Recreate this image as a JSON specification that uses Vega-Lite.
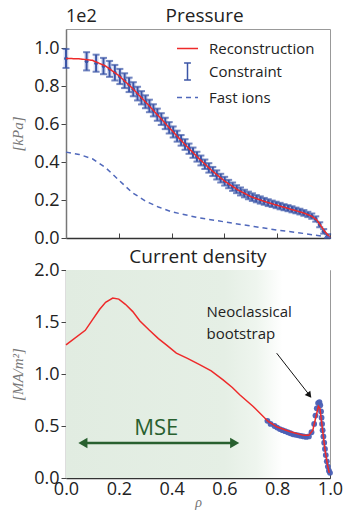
{
  "$schema": "https://vega.github.io/schema/vega-lite/v6.json",
  "padding": {"left": 10, "top": 6, "right": 2, "bottom": 2},
  "background": "white",
  "bounds": "flush",
  "spacing": 32,
  "config": {
    "font": "Open Sans",
    "view": {"stroke": "#999", "strokeWidth": 1},
    "axis": {
      "grid": false,
      "labelFlush": false,
      "domainColor": "#444",
      "domainWidth": 1.5,
      "tickColor": "#444",
      "labelFont": "Open Sans",
      "labelFontSize": 18,
      "labelColor": "#222",
      "titleFont": "Liberation Serif",
      "titleFontStyle": "italic",
      "titleFontWeight": "normal",
      "titleColor": "#777",
      "titleFontSize": 15
    }
  },
  "datasets": {
    "one": [{}],
    "pressure_lines": [
      {"series": "Reconstruction", "rho": 0.0, "p": 0.945},
      {"series": "Reconstruction", "rho": 0.05, "p": 0.943},
      {"series": "Reconstruction", "rho": 0.1, "p": 0.935},
      {"series": "Reconstruction", "rho": 0.15, "p": 0.905},
      {"series": "Reconstruction", "rho": 0.2, "p": 0.855},
      {"series": "Reconstruction", "rho": 0.25, "p": 0.79},
      {"series": "Reconstruction", "rho": 0.3, "p": 0.718},
      {"series": "Reconstruction", "rho": 0.35, "p": 0.643},
      {"series": "Reconstruction", "rho": 0.4, "p": 0.567},
      {"series": "Reconstruction", "rho": 0.45, "p": 0.493},
      {"series": "Reconstruction", "rho": 0.5, "p": 0.423},
      {"series": "Reconstruction", "rho": 0.55, "p": 0.358},
      {"series": "Reconstruction", "rho": 0.6, "p": 0.3},
      {"series": "Reconstruction", "rho": 0.65, "p": 0.254},
      {"series": "Reconstruction", "rho": 0.7, "p": 0.218},
      {"series": "Reconstruction", "rho": 0.75, "p": 0.193},
      {"series": "Reconstruction", "rho": 0.8, "p": 0.172},
      {"series": "Reconstruction", "rho": 0.85, "p": 0.152},
      {"series": "Reconstruction", "rho": 0.9, "p": 0.132},
      {"series": "Reconstruction", "rho": 0.93, "p": 0.115},
      {"series": "Reconstruction", "rho": 0.95, "p": 0.095},
      {"series": "Reconstruction", "rho": 0.965, "p": 0.065},
      {"series": "Reconstruction", "rho": 0.98, "p": 0.035},
      {"series": "Reconstruction", "rho": 1.0, "p": 0.003},
      {"series": "Fast ions", "rho": 0.0, "p": 0.452},
      {"series": "Fast ions", "rho": 0.05, "p": 0.44},
      {"series": "Fast ions", "rho": 0.1, "p": 0.417},
      {"series": "Fast ions", "rho": 0.15, "p": 0.37},
      {"series": "Fast ions", "rho": 0.2, "p": 0.305},
      {"series": "Fast ions", "rho": 0.25, "p": 0.24},
      {"series": "Fast ions", "rho": 0.3, "p": 0.195},
      {"series": "Fast ions", "rho": 0.35, "p": 0.163},
      {"series": "Fast ions", "rho": 0.4, "p": 0.138},
      {"series": "Fast ions", "rho": 0.5, "p": 0.107},
      {"series": "Fast ions", "rho": 0.6, "p": 0.085},
      {"series": "Fast ions", "rho": 0.7, "p": 0.063},
      {"series": "Fast ions", "rho": 0.8, "p": 0.042},
      {"series": "Fast ions", "rho": 0.9, "p": 0.024},
      {"series": "Fast ions", "rho": 1.0, "p": 0.004}
    ],
    "constraint": [
      {"rho": 0.0, "p": 0.945, "lo": 0.895, "hi": 0.995},
      {"rho": 0.078, "p": 0.93, "lo": 0.882, "hi": 0.978},
      {"rho": 0.114, "p": 0.92, "lo": 0.875, "hi": 0.965},
      {"rho": 0.142, "p": 0.905, "lo": 0.862, "hi": 0.948},
      {"rho": 0.165, "p": 0.89, "lo": 0.848, "hi": 0.932},
      {"rho": 0.185, "p": 0.87, "lo": 0.829, "hi": 0.911},
      {"rho": 0.204, "p": 0.85, "lo": 0.81, "hi": 0.89},
      {"rho": 0.222, "p": 0.828, "lo": 0.789, "hi": 0.867},
      {"rho": 0.239, "p": 0.806, "lo": 0.768, "hi": 0.844},
      {"rho": 0.255, "p": 0.783, "lo": 0.746, "hi": 0.82},
      {"rho": 0.271, "p": 0.76, "lo": 0.724, "hi": 0.796},
      {"rho": 0.286, "p": 0.738, "lo": 0.703, "hi": 0.773},
      {"rho": 0.301, "p": 0.717, "lo": 0.683, "hi": 0.751},
      {"rho": 0.316, "p": 0.695, "lo": 0.662, "hi": 0.728},
      {"rho": 0.331, "p": 0.672, "lo": 0.64, "hi": 0.704},
      {"rho": 0.346, "p": 0.649, "lo": 0.617, "hi": 0.681},
      {"rho": 0.361, "p": 0.626, "lo": 0.595, "hi": 0.657},
      {"rho": 0.376, "p": 0.603, "lo": 0.573, "hi": 0.633},
      {"rho": 0.391, "p": 0.58, "lo": 0.55, "hi": 0.61},
      {"rho": 0.406, "p": 0.558, "lo": 0.529, "hi": 0.587},
      {"rho": 0.421, "p": 0.536, "lo": 0.507, "hi": 0.565},
      {"rho": 0.436, "p": 0.514, "lo": 0.486, "hi": 0.542},
      {"rho": 0.451, "p": 0.492, "lo": 0.464, "hi": 0.52},
      {"rho": 0.466, "p": 0.47, "lo": 0.443, "hi": 0.497},
      {"rho": 0.481, "p": 0.449, "lo": 0.422, "hi": 0.476},
      {"rho": 0.496, "p": 0.428, "lo": 0.402, "hi": 0.454},
      {"rho": 0.511, "p": 0.408, "lo": 0.382, "hi": 0.434},
      {"rho": 0.526, "p": 0.388, "lo": 0.363, "hi": 0.413},
      {"rho": 0.541, "p": 0.369, "lo": 0.344, "hi": 0.394},
      {"rho": 0.556, "p": 0.35, "lo": 0.326, "hi": 0.374},
      {"rho": 0.571, "p": 0.332, "lo": 0.308, "hi": 0.356},
      {"rho": 0.586, "p": 0.315, "lo": 0.292, "hi": 0.338},
      {"rho": 0.601, "p": 0.299, "lo": 0.276, "hi": 0.322},
      {"rho": 0.616, "p": 0.284, "lo": 0.262, "hi": 0.306},
      {"rho": 0.631, "p": 0.27, "lo": 0.248, "hi": 0.292},
      {"rho": 0.646, "p": 0.257, "lo": 0.236, "hi": 0.278},
      {"rho": 0.661, "p": 0.245, "lo": 0.224, "hi": 0.266},
      {"rho": 0.676, "p": 0.234, "lo": 0.214, "hi": 0.254},
      {"rho": 0.691, "p": 0.224, "lo": 0.204, "hi": 0.244},
      {"rho": 0.706, "p": 0.215, "lo": 0.195, "hi": 0.235},
      {"rho": 0.721, "p": 0.207, "lo": 0.188, "hi": 0.226},
      {"rho": 0.736, "p": 0.2, "lo": 0.181, "hi": 0.219},
      {"rho": 0.751, "p": 0.193, "lo": 0.175, "hi": 0.211},
      {"rho": 0.766, "p": 0.186, "lo": 0.168, "hi": 0.204},
      {"rho": 0.781, "p": 0.18, "lo": 0.163, "hi": 0.197},
      {"rho": 0.796, "p": 0.174, "lo": 0.157, "hi": 0.191},
      {"rho": 0.811, "p": 0.168, "lo": 0.151, "hi": 0.185},
      {"rho": 0.826, "p": 0.162, "lo": 0.146, "hi": 0.178},
      {"rho": 0.841, "p": 0.157, "lo": 0.141, "hi": 0.173},
      {"rho": 0.856, "p": 0.151, "lo": 0.135, "hi": 0.167},
      {"rho": 0.871, "p": 0.145, "lo": 0.13, "hi": 0.16},
      {"rho": 0.886, "p": 0.139, "lo": 0.124, "hi": 0.154},
      {"rho": 0.901, "p": 0.132, "lo": 0.117, "hi": 0.147},
      {"rho": 0.916, "p": 0.124, "lo": 0.11, "hi": 0.138},
      {"rho": 0.931, "p": 0.115, "lo": 0.101, "hi": 0.129},
      {"rho": 0.946, "p": 0.1, "lo": 0.086, "hi": 0.114},
      {"rho": 0.961, "p": 0.07, "lo": 0.057, "hi": 0.083},
      {"rho": 0.976, "p": 0.035, "lo": 0.023, "hi": 0.047},
      {"rho": 0.991, "p": 0.01, "lo": 0.0, "hi": 0.02}
    ],
    "current_fit": [
      {"rho": 0.0, "j": 1.28},
      {"rho": 0.073, "j": 1.42},
      {"rho": 0.1, "j": 1.52},
      {"rho": 0.127, "j": 1.62},
      {"rho": 0.15, "j": 1.69},
      {"rho": 0.177, "j": 1.73},
      {"rho": 0.2, "j": 1.72},
      {"rho": 0.225, "j": 1.67},
      {"rho": 0.253, "j": 1.6},
      {"rho": 0.28, "j": 1.51},
      {"rho": 0.316, "j": 1.42},
      {"rho": 0.35, "j": 1.34},
      {"rho": 0.38, "j": 1.28},
      {"rho": 0.418, "j": 1.2},
      {"rho": 0.46, "j": 1.15},
      {"rho": 0.506, "j": 1.09},
      {"rho": 0.55, "j": 1.03},
      {"rho": 0.595, "j": 0.944},
      {"rho": 0.63, "j": 0.87},
      {"rho": 0.658, "j": 0.8},
      {"rho": 0.709, "j": 0.688},
      {"rho": 0.766, "j": 0.544},
      {"rho": 0.8, "j": 0.49},
      {"rho": 0.85, "j": 0.445},
      {"rho": 0.9, "j": 0.41},
      {"rho": 0.92, "j": 0.41},
      {"rho": 0.935, "j": 0.46},
      {"rho": 0.945, "j": 0.57},
      {"rho": 0.956, "j": 0.69},
      {"rho": 0.962, "j": 0.67},
      {"rho": 0.97, "j": 0.5},
      {"rho": 0.981, "j": 0.27},
      {"rho": 0.99, "j": 0.13},
      {"rho": 0.997, "j": 0.05}
    ],
    "current_pts": [
      {"rho": 0.763, "j": 0.55},
      {"rho": 0.775, "j": 0.52},
      {"rho": 0.79, "j": 0.5},
      {"rho": 0.8, "j": 0.485},
      {"rho": 0.81, "j": 0.47},
      {"rho": 0.82, "j": 0.46},
      {"rho": 0.83, "j": 0.45},
      {"rho": 0.84, "j": 0.44},
      {"rho": 0.85, "j": 0.43},
      {"rho": 0.86, "j": 0.42},
      {"rho": 0.87, "j": 0.415},
      {"rho": 0.88, "j": 0.41},
      {"rho": 0.89, "j": 0.405},
      {"rho": 0.9, "j": 0.4},
      {"rho": 0.91, "j": 0.395},
      {"rho": 0.92, "j": 0.4},
      {"rho": 0.93, "j": 0.44},
      {"rho": 0.94, "j": 0.52},
      {"rho": 0.945, "j": 0.6},
      {"rho": 0.95, "j": 0.67},
      {"rho": 0.955, "j": 0.72},
      {"rho": 0.96, "j": 0.73},
      {"rho": 0.963, "j": 0.7},
      {"rho": 0.966, "j": 0.64},
      {"rho": 0.968, "j": 0.58},
      {"rho": 0.97, "j": 0.52},
      {"rho": 0.972, "j": 0.46},
      {"rho": 0.975, "j": 0.4},
      {"rho": 0.978, "j": 0.34},
      {"rho": 0.981, "j": 0.28},
      {"rho": 0.984, "j": 0.22},
      {"rho": 0.988, "j": 0.16},
      {"rho": 0.992, "j": 0.11},
      {"rho": 0.996, "j": 0.07},
      {"rho": 1.0, "j": 0.05}
    ]
  },
  "vconcat": [
    {
      "width": 264,
      "height": 209,
      "layer": [
        {
          "data": {"name": "constraint"},
          "mark": {"type": "rule", "color": "#8fa0dd", "strokeWidth": 5, "opacity": 0.35},
          "encoding": {
            "x": {"field": "rho", "type": "quantitative", "scale": {"domain": [0, 1], "nice": false},
              "axis": {"title": null, "labels": false, "values": [0, 0.2, 0.4, 0.6, 0.8, 1.0], "tickSize": -5, "domainColor": "#333"}},
            "y": {"field": "lo", "type": "quantitative", "scale": {"domain": [0, 1.1], "nice": false},
              "axis": {"title": "[kPa]", "values": [0, 0.2, 0.4, 0.6, 0.8, 1.0], "format": ".1f", "tickSize": 5, "labelPadding": 2, "titlePadding": 8, "domainColor": "#777"}},
            "y2": {"field": "hi"}
          }
        },
        {
          "data": {"name": "constraint"},
          "mark": {"type": "rule", "color": "#3b55a6", "strokeWidth": 2},
          "encoding": {
            "x": {"field": "rho", "type": "quantitative"},
            "y": {"field": "lo", "type": "quantitative"},
            "y2": {"field": "hi"}
          }
        },
        {
          "data": {"name": "constraint"},
          "mark": {"type": "tick", "orient": "horizontal", "color": "#3b55a6", "size": 7, "thickness": 2},
          "encoding": {
            "x": {"field": "rho", "type": "quantitative"},
            "y": {"field": "lo", "type": "quantitative"}
          }
        },
        {
          "data": {"name": "constraint"},
          "mark": {"type": "tick", "orient": "horizontal", "color": "#3b55a6", "size": 7, "thickness": 2},
          "encoding": {
            "x": {"field": "rho", "type": "quantitative"},
            "y": {"field": "hi", "type": "quantitative"}
          }
        },
        {
          "data": {"name": "constraint"},
          "mark": {"type": "point", "filled": true, "color": "#3b55a6", "size": 14, "opacity": 1},
          "encoding": {
            "x": {"field": "rho", "type": "quantitative"},
            "y": {"field": "p", "type": "quantitative"}
          }
        },
        {
          "data": {"name": "pressure_lines"},
          "mark": {"type": "line", "strokeWidth": 1.5},
          "encoding": {
            "x": {"field": "rho", "type": "quantitative"},
            "y": {"field": "p", "type": "quantitative"},
            "detail": {"field": "series"},
            "color": {
              "field": "series", "type": "nominal",
              "scale": {"domain": ["Reconstruction", "Constraint", "Fast ions"], "range": ["#ee2a2a", "#3b55a6", "#5068bb"]},
              "legend": {
                "orient": "none", "legendX": 110, "legendY": 8, "title": null,
                "labelFont": "Open Sans", "labelFontSize": 15, "labelColor": "#222",
                "rowPadding": 3, "labelOffset": 10, "symbolStrokeWidth": 1.5,
                "encode": {
                  "symbols": {
                    "update": {
                      "shape": {"signal": "datum.value === 'Constraint' ? 'M0,-1L0,1M-0.4,-1L0.4,-1M-0.4,1L0.4,1' : 'stroke'"},
                      "size": {"signal": "datum.value === 'Constraint' ? 289 : 441"},
                      "strokeDash": {"signal": "datum.value === 'Fast ions' ? [5, 4] : [1, 0]"},
                      "strokeWidth": {"signal": "datum.value === 'Constraint' ? 2 : 1.5"},
                      "fill": {"value": "transparent"}
                    }
                  }
                }
              }
            },
            "strokeDash": {
              "field": "series", "type": "nominal",
              "scale": {"domain": ["Reconstruction", "Constraint", "Fast ions"], "range": [[1, 0], [1, 0], [5, 4]]},
              "legend": null
            },
            "strokeWidth": {
              "field": "series", "type": "nominal",
              "scale": {"domain": ["Reconstruction", "Constraint", "Fast ions"], "range": [1.5, 1.5, 1]},
              "legend": null
            }
          }
        },
        {
          "data": {"name": "one"},
          "mark": {"type": "text", "text": "1e2", "align": "left", "baseline": "alphabetic", "fontSize": 18, "color": "#222", "dy": -7, "font": "Open Sans"},
          "encoding": {
            "x": {"datum": 0},
            "y": {"datum": 1.1}
          }
        },
        {
          "data": {"name": "one"},
          "mark": {"type": "text", "text": "Pressure", "align": "center", "baseline": "alphabetic", "fontSize": 19, "color": "#222", "dy": -7, "font": "Open Sans"},
          "encoding": {
            "x": {"datum": 0.525},
            "y": {"datum": 1.1}
          }
        }
      ]
    },
    {
      "width": 264,
      "height": 208,
      "layer": [
        {
          "data": {"name": "one"},
          "mark": {
            "type": "rect",
            "fill": {
              "gradient": "linear", "x1": 0, "x2": 1, "y1": 0, "y2": 0,
              "stops": [
                {"offset": 0, "color": "#e1ece1"},
                {"offset": 0.6, "color": "#e5efe5"},
                {"offset": 0.72, "color": "#eef5ee"},
                {"offset": 0.82, "color": "#ffffff"},
                {"offset": 1, "color": "#ffffff"}
              ]
            }
          },
          "encoding": {
            "x": {"datum": 0, "type": "quantitative", "scale": {"domain": [0, 1], "nice": false},
              "axis": {"title": "ρ", "values": [0, 0.2, 0.4, 0.6, 0.8, 1.0], "format": ".1f", "tickSize": -5, "labelPadding": 7, "titlePadding": -3, "titleFontSize": 14, "domainColor": "#333"}},
            "x2": {"datum": 1},
            "y": {"datum": 0, "type": "quantitative", "scale": {"domain": [0, 2], "nice": false},
              "axis": {"title": "[MA/m²]", "values": [0, 0.5, 1.0, 1.5, 2.0], "format": ".1f", "tickSize": 5, "labelPadding": 2, "titlePadding": 8, "domainColor": "#777"}},
            "y2": {"datum": 2}
          }
        },
        {
          "data": {"name": "current_pts"},
          "mark": {"type": "point", "filled": true, "color": "#4a5fb5", "size": 34, "opacity": 0.95},
          "encoding": {
            "x": {"field": "rho", "type": "quantitative"},
            "y": {"field": "j", "type": "quantitative"}
          }
        },
        {
          "data": {"name": "current_fit"},
          "mark": {"type": "line", "color": "#ee2a2a", "strokeWidth": 1.5},
          "encoding": {
            "x": {"field": "rho", "type": "quantitative"},
            "y": {"field": "j", "type": "quantitative"}
          }
        },
        {
          "data": {"name": "one"},
          "mark": {"type": "rule", "color": "#28602f", "strokeWidth": 2.5},
          "encoding": {
            "x": {"datum": 0.06}, "x2": {"datum": 0.64},
            "y": {"datum": 0.336}
          }
        },
        {
          "data": {"name": "one"},
          "mark": {"type": "point", "shape": "triangle-left", "filled": true, "color": "#28602f", "size": 110, "opacity": 1},
          "encoding": {
            "x": {"datum": 0.064},
            "y": {"datum": 0.336}
          }
        },
        {
          "data": {"name": "one"},
          "mark": {"type": "point", "shape": "triangle-right", "filled": true, "color": "#28602f", "size": 110, "opacity": 1},
          "encoding": {
            "x": {"datum": 0.639},
            "y": {"datum": 0.336}
          }
        },
        {
          "data": {"name": "one"},
          "mark": {"type": "text", "text": "MSE", "color": "#28602f", "fontSize": 22, "font": "Open Sans", "align": "center", "baseline": "middle"},
          "encoding": {
            "x": {"datum": 0.342},
            "y": {"datum": 0.48}
          }
        },
        {
          "data": {"name": "one"},
          "mark": {"type": "rule", "color": "#111", "strokeWidth": 1},
          "encoding": {
            "x": {"datum": 0.798}, "x2": {"datum": 0.919},
            "y": {"datum": 1.2}, "y2": {"datum": 0.807}
          }
        },
        {
          "data": {"name": "one"},
          "mark": {"type": "point", "shape": "triangle-up", "filled": true, "color": "#111", "size": 50, "angle": 142, "opacity": 1},
          "encoding": {
            "x": {"datum": 0.922},
            "y": {"datum": 0.795}
          }
        },
        {
          "data": {"name": "one"},
          "mark": {"type": "text", "text": ["Neoclassical", "bootstrap"], "lineHeight": 22, "color": "#222", "fontSize": 15, "font": "Open Sans", "align": "left", "baseline": "alphabetic"},
          "encoding": {
            "x": {"datum": 0.532},
            "y": {"datum": 1.544}
          }
        },
        {
          "data": {"name": "one"},
          "mark": {"type": "text", "text": "Current density", "align": "center", "baseline": "alphabetic", "fontSize": 19, "color": "#222", "dy": -7, "font": "Open Sans"},
          "encoding": {
            "x": {"datum": 0.5},
            "y": {"datum": 2.0}
          }
        }
      ]
    }
  ]
}
